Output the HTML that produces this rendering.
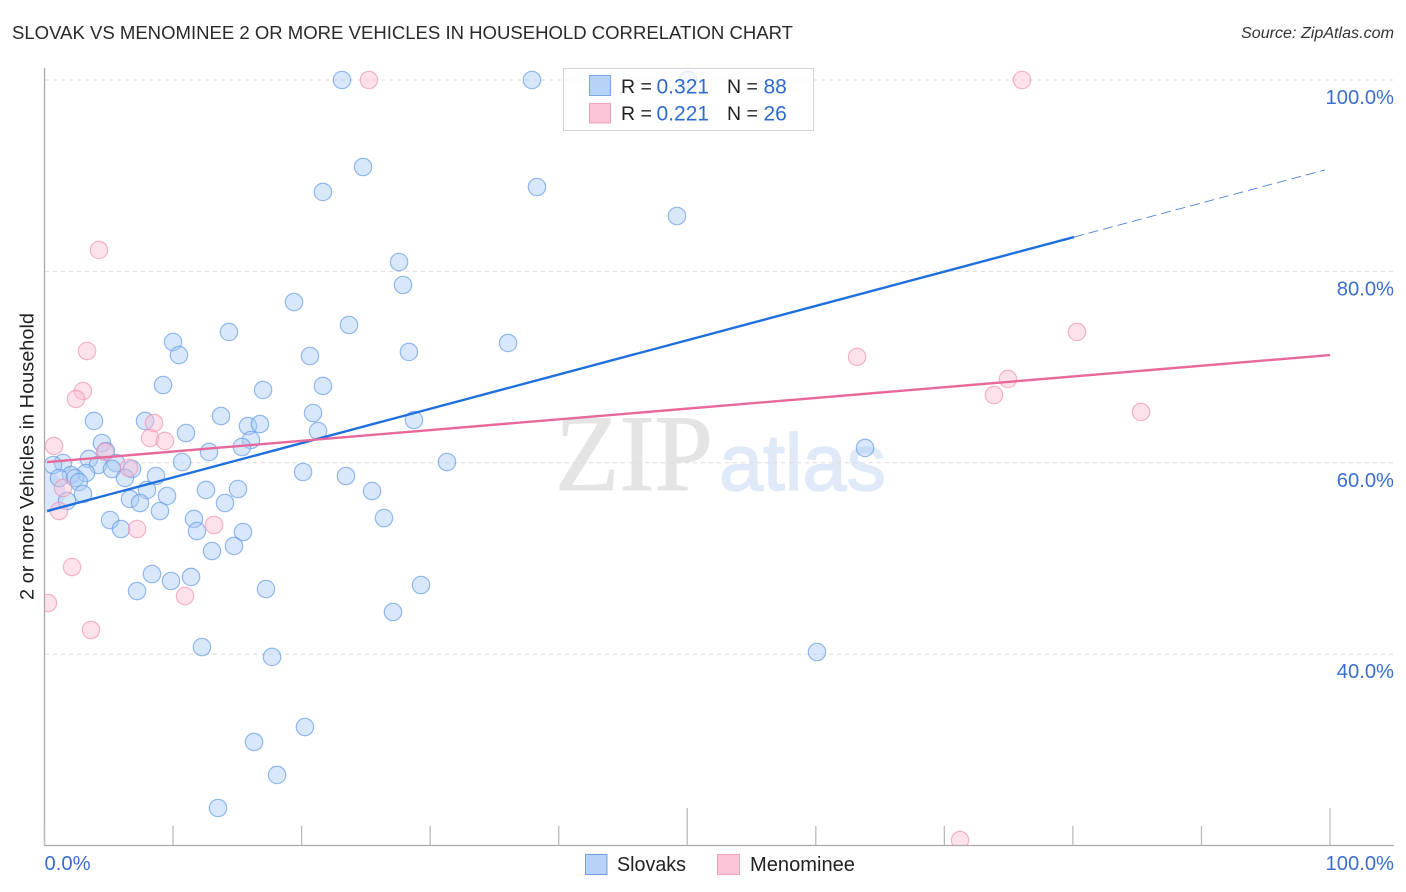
<!DOCTYPE html>
<html lang="en">
<head>
<meta charset="utf-8">
<title>Slovak vs Menominee 2 or More Vehicles in Household Correlation Chart</title>
<style>
html,body{margin:0;padding:0;background:#fff;}
body{width:1406px;height:892px;overflow:hidden;font-family:"Liberation Sans",sans-serif;}
svg{display:block;}
</style>
</head>
<body>
<svg id="chart" width="1406" height="892" viewBox="0 0 1406 892" xmlns="http://www.w3.org/2000/svg" font-family="'Liberation Sans',sans-serif">
  <defs>
    <clipPath id="plot-clip"><rect x="45" y="60" width="1349" height="785"></rect></clipPath>
  </defs>
  <text x="12" y="39" font-size="18" fill="#2a2a2a" textLength="781" lengthAdjust="spacingAndGlyphs">SLOVAK VS MENOMINEE 2 OR MORE VEHICLES IN HOUSEHOLD CORRELATION CHART</text>
  <text x="1394" y="38" font-size="15.5" font-style="italic" fill="#333" text-anchor="end" textLength="153" lengthAdjust="spacingAndGlyphs">Source: ZipAtlas.com</text>
  <g>
    <text x="555" y="490" font-family="'Liberation Serif',serif" font-size="109" fill="#e4e4e4" stroke="#e4e4e4" stroke-width="1" textLength="158" lengthAdjust="spacingAndGlyphs">ZIP</text>
    <text x="719" y="490" font-family="'Liberation Sans',sans-serif" font-size="80" fill="#dfe9f8" stroke="#dfe9f8" stroke-width="1.5" textLength="167" lengthAdjust="spacingAndGlyphs">atlas</text>
  </g>
  <g id="grid"></g>
  <g id="points" clip-path="url(#plot-clip)"></g>
  <g id="trends"></g>
  <g id="axes"></g>
  <text transform="translate(33.5,456.5) rotate(-90)" font-size="19.5" fill="#222" text-anchor="middle" textLength="287" lengthAdjust="spacingAndGlyphs">2 or more Vehicles in Household</text>

  <g>
    <rect x="563.5" y="68.5" width="250" height="62" fill="#fff" fill-opacity="0.72" stroke="#d4d4d4" stroke-width="1"></rect>
    <rect x="589.5" y="75.5" width="21" height="20" fill="#b6d2f7" stroke="#7ba7e6" stroke-width="1"></rect>
    <rect x="589.5" y="103.5" width="21" height="19.5" fill="#fdc5d8" stroke="#f0a3bd" stroke-width="1"></rect>
    <g font-size="19.5" fill="#222">
      <text x="621" y="93">R =</text>
      <text x="727" y="93">N =</text>
      <text x="621" y="120">R =</text>
      <text x="727" y="120">N =</text>
    </g>
    <g font-size="21" fill="#2f6bce">
      <text x="656.5" y="93.5">0.321</text>
      <text x="763.5" y="93.5">88</text>
      <text x="656.5" y="120.5">0.221</text>
      <text x="763.5" y="120.5">26</text>
    </g>
  </g>

  <g>
    <rect x="585.5" y="854.5" width="21.5" height="20" fill="#b6d2f7" stroke="#6f9fe0" stroke-width="1"></rect>
    <text x="617" y="871" font-size="20" fill="#222" textLength="69" lengthAdjust="spacingAndGlyphs">Slovaks</text>
    <rect x="717.5" y="854.5" width="22" height="20" fill="#fdc5d8" stroke="#f0a3bd" stroke-width="1"></rect>
    <text x="750" y="871" font-size="20" fill="#222" textLength="105" lengthAdjust="spacingAndGlyphs">Menominee</text>
  </g>
</svg>
<script>
const slovakX = [23.14,37.92,50.06,24.78,21.66,38.31,49.20,27.58,27.89,19.41,23.69,14.35,10.00,10.46,20.65,28.35,36.06,9.22,17.00,21.66,13.73,3.85,7.82,20.89,15.83,16.76,28.74,21.28,11.01,4.47,4.78,16.06,15.36,12.80,10.70,31.31,3.46,1.44,0.66,5.56,4.16,5.25,6.81,63.83,20.11,23.45,25.48,3.23,2.06,1.13,2.37,2.68,6.26,8.67,2.99,7.97,12.56,15.05,9.53,6.65,7.43,14.04,1.75,8.98,26.41,5.10,11.63,5.95,11.86,15.44,14.74,13.03,8.36,9.84,11.40,7.20,17.23,29.29,27.11,12.25,17.70,60.09,20.26,16.30,18.09,13.50];
const slovakY = [100,100,100,90.91,88.30,88.82,85.79,80.98,78.58,76.80,74.40,73.67,72.62,71.26,71.16,71.58,72.52,68.13,67.61,68.03,64.89,64.37,64.37,65.20,63.84,64.05,64.47,63.32,63.11,62.07,61.23,62.38,61.65,61.13,60.08,60.08,60.40,59.98,59.77,59.98,59.77,59.35,59.35,61.55,59.04,58.62,57.05,58.93,58.72,58.41,58.41,57.99,58.41,58.62,56.74,57.16,57.16,57.26,56.53,56.22,55.80,55.80,56.01,54.96,54.23,54.02,54.13,53.08,52.87,52.77,51.31,50.78,48.38,47.65,48.07,46.60,46.81,47.23,44.41,40.75,39.71,40.23,32.39,30.83,27.38,23.93];
const slovakBubbleX = [0];
const slovakBubbleY = [56.95];
const menomineeX = [25.24,76.04,4.24,3.31,2.99,2.45,0.74,8.52,8.21,9.37,4.71,6.57,1.44,1.13,7.20,13.19,2.14,10.93,0.27,3.62,63.21,80.32,74.95,73.86,85.30,71.22];
const menomineeY = [100,100,82.24,71.68,67.50,66.67,61.76,64.16,62.59,62.28,61.13,59.46,57.37,54.96,53.08,53.50,49.11,46.08,45.35,42.53,71.06,73.67,68.76,67.08,65.31,20.58];
const slovakTrendX = [0.2,80.09];
const slovakTrendY = [54.96,83.59];
const slovakProjectionX = [80.09,99.61];
const slovakProjectionY = [83.59,90.60];
const menomineeTrendX = [0.2,100];
const menomineeTrendY = [60.08,71.26];
const yTickValues = [100,80,60,40];
const yTickLabels = ['100.0%','80.0%','60.0%','40.0%'];
const xTickValues = [0,10,20,30,40,50,60,70,80,90,100];
const xMajorTicks = [50,100];
const xEdgeValues = [0,100];
const xEdgeLabels = ['0.0%','100.0%'];

const SVGNS = 'http://www.w3.org/2000/svg';
function xScale(v){ return 44.5 + v * 12.855; }
function yScale(v){ return 80 + (100 - v) * 9.57; }
function make(tag, parent, attrs){
  const el = document.createElementNS(SVGNS, tag);
  for (const k in attrs) el.setAttribute(k, attrs[k]);
  parent.appendChild(el);
  return el;
}

const grid = document.getElementById('grid');
const axes = document.getElementById('axes');
const pointsLayer = document.getElementById('points');
const trends = document.getElementById('trends');

yTickValues.forEach(function(v, i){
  const line = make('line', grid, {x1:45, x2:1394, y1:yScale(v), y2:yScale(v), stroke:'#dcdcdc', 'stroke-width':1, 'stroke-dasharray':'4 4'});
  
  
  const label = make('text', axes, {x:1394, y:yScale(v) + 24, 'font-size':20.2, fill:'#3a6fcf', 'text-anchor':'end'});
  label.textContent = yTickLabels[i];
  
  
});

const yAxis = make('line', axes, {x1:44.5, x2:44.5, y1:68, y2:846, stroke:'#aaaaaa', 'stroke-width':1.3});


const xAxis = make('line', axes, {x1:44, x2:1394, y1:845.5, y2:845.5, stroke:'#aaaaaa', 'stroke-width':1.3});



xTickValues.forEach(function(v){
  const top = xMajorTicks.indexOf(v) >= 0 ? 808 : 826;
  const tick = make('line', axes, {x1:xScale(v), x2:xScale(v), y1:top, y2:845, stroke:'#bbbbbb', 'stroke-width':1.3});
  
  
});

xEdgeValues.forEach(function(v, i){
  const anchor = v === 0 ? 'start' : 'end';
  const px = v === 0 ? xScale(v) : 1394;
  const label = make('text', axes, {x:px, y:870, 'font-size':20.2, fill:'#3a6fcf', 'text-anchor':anchor});
  label.textContent = xEdgeLabels[i];
  
  
});

slovakBubbleX.forEach(function(v, i){
  const c = make('circle', pointsLayer, {cx:xScale(v), cy:yScale(slovakBubbleY[i]), r:21, fill:'#a9c9f5', 'fill-opacity':0.42, stroke:'none'});
  
  
});
slovakX.forEach(function(v, i){
  const c = make('circle', pointsLayer, {cx:xScale(v), cy:yScale(slovakY[i]), r:8.7, fill:'#a9c9f5', 'fill-opacity':0.45, stroke:'#5d97e6', 'stroke-opacity':0.65, 'stroke-width':1.2});
  
  
});
menomineeX.forEach(function(v, i){
  const c = make('circle', pointsLayer, {cx:xScale(v), cy:yScale(menomineeY[i]), r:8.7, fill:'#fbbdd2', 'fill-opacity':0.45, stroke:'#ee8fb0', 'stroke-opacity':0.65, 'stroke-width':1.2});
  
  
});

const blueTrend = make('line', trends, {x1:xScale(slovakTrendX[0]), y1:yScale(slovakTrendY[0]), x2:xScale(slovakTrendX[1]), y2:yScale(slovakTrendY[1]), stroke:'#1f6fdc', 'stroke-width':2.4});


const blueProjection = make('line', trends, {x1:xScale(slovakProjectionX[0]), y1:yScale(slovakProjectionY[0]), x2:xScale(slovakProjectionX[1]), y2:yScale(slovakProjectionY[1]), stroke:'#4d84d8', 'stroke-width':0.9, 'stroke-dasharray':'10 5'});


const pinkTrend = make('line', trends, {x1:xScale(menomineeTrendX[0]), y1:yScale(menomineeTrendY[0]), x2:xScale(menomineeTrendX[1]), y2:yScale(menomineeTrendY[1]), stroke:'#e8689a', 'stroke-width':2.4});


</script>
</body>
</html>
